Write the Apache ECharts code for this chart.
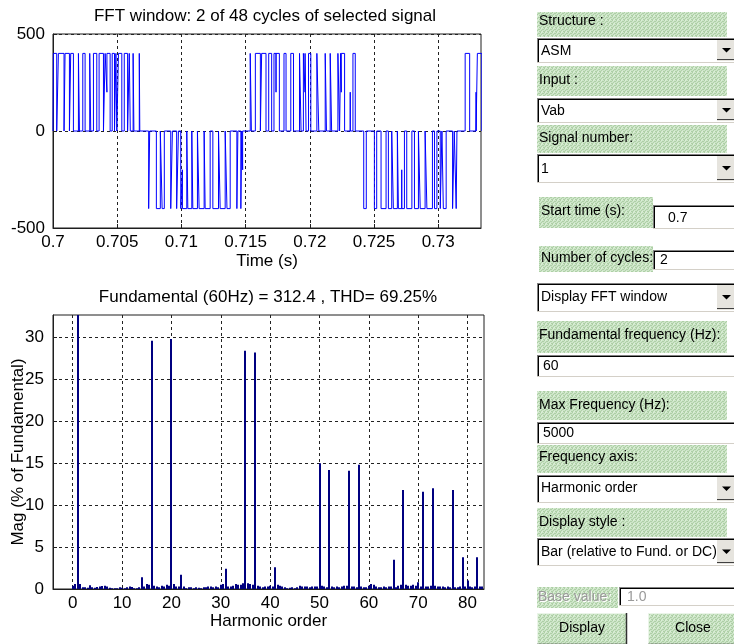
<!DOCTYPE html>
<html>
<head>
<meta charset="utf-8">
<script src="https://cdn.jsdelivr.net/npm/echarts@6.0.0/dist/echarts.min.js"></script>
<style>
  html, body { margin: 0; padding: 0; background: #fff; }
  #chart { width: 734px; height: 644px; }
</style>
</head>
<body>
<div id="chart"></div>
<script>
// ---------------------------------------------------------------------------
// Time-domain window: 2 cycles of the 60 Hz line voltage Vab from t = 0.7 s
// ---------------------------------------------------------------------------
const windowStart = 0.7;                 // s
const windowEnd = 0.7 + 2 / 60;          // s
const timeTicks = [0.7, 0.705, 0.71, 0.715, 0.72, 0.725, 0.73];
const voltTicks = [-500, 0, 500];
const busVoltage = 400;                  // V, pulse amplitude

// Conduction intervals, ms after the window start: [on, off]
const posHalf1 = [[0.03, 0.29], [0.42, 0.86], [0.94, 1.28], [1.38, 1.59], [1.98, 2.06], [2.32, 2.5],
                  [2.86, 2.94], [3.15, 3.41], [3.59, 3.93], [4.06, 4.45], [4.61, 4.79], [4.9, 4.97],
                  [5.1, 5.36], [5.55, 5.81], [5.94, 6.02], [6.24, 6.3], [6.72, 6.76]];
const negHalf1 = [[7.45, 7.53], [8.05, 8.36], [8.5, 8.67], [9.17, 9.3], [9.63, 9.77], [9.95, 10.42],
                  [10.5, 10.81], [10.89, 11.25], [11.38, 11.77], [11.85, 12.24], [12.45, 12.89],
                  [13.02, 13.41], [13.55, 13.8], [14.32, 14.4], [14.63, 14.7]];
const posHalf2 = [[15.36, 15.45], [15.76, 16.15], [16.25, 16.59], [16.8, 17.03], [17.21, 17.63],
                  [17.99, 18.15], [18.52, 18.73], [19.2, 19.32], [19.5, 19.71], [19.9, 20.08],
                  [20.55, 20.7], [21.2, 21.3], [21.59, 21.7], [22.19, 22.32], [22.4, 22.71], [23.36, 23.54]];
const negHalf2 = [[24.2, 24.4], [25.03, 25.21], [25.55, 25.94], [26.12, 26.38], [26.51, 26.82],
                  [26.9, 27.37], [27.55, 27.95], [28.15, 28.46], [28.6, 28.98], [29.12, 29.55],
                  [29.71, 29.9], [30.16, 30.29], [30.4, 30.62], [31.12, 31.25], [31.4, 31.46]];
const posHalf3 = [[32.1, 32.45], [33.05, 33.4]];
// Samples caught mid-transition: [ms, V]
const partialSamples = [[4.2, 200], [10.08, -200], [14.77, -200], [17.37, 200], [19.63, 200],
                        [22.45, 200], [23.15, 200], [27.16, -200], [32.95, 200]];

// ---------------------------------------------------------------------------
// Spectrum: magnitude in % of fundamental, bins every 0.5 harmonic (0 .. 83)
// ---------------------------------------------------------------------------
const binStep = 0.5;
const harmonicMin = -4;
const harmonicMax = 5000 / 60;
const harmonicTicks = [0, 10, 20, 30, 40, 50, 60, 70, 80];
const magTicks = [0, 5, 10, 15, 20, 25, 30];
const magMax = 32.67;
const magPct = [
  0.4, 0.6,  100, 0.6,  0.2, 0.2,  0.15, 0.45,  0.2, 0.15,      // h 0-4
  0.25, 0.3,  0.35, 0.4,  0.3, 0.15,  0.1, 0.1,  0.1, 0.2,      // h 5-9
  0.15, 0.1,  0.2, 0.3,  0.25, 0.1,  0.1, 0.2,  1.4, 0.3,       // h 10-14
  0.6, 0.5,  29.6, 0.4,  0.3, 0.2,  0.4, 0.3,  0.5, 0.4,        // h 15-19
  29.8, 0.6,  0.3, 0.3,  1.7, 0.3,  0.1, 0.2,  0.2, 0.1,        // h 20-24
  0.2, 0.15,  0.1, 0.2,  0.2, 0.3,  0.3, 0.2,  0.3, 0.2,        // h 25-29
  0.5, 0.6,  2.4, 0.3,  0.3, 0.4,  0.6, 0.5,  0.5, 0.7,         // h 30-34
  28.4, 0.7,  0.6, 0.5,  28.2, 0.4,  0.3, 0.2,  0.3, 0.3,       // h 35-39
  0.4, 0.3,  2.6, 0.5,  0.4, 0.3,  0.2, 0.1,  0.15, 0.2,        // h 40-44
  0.1, 0.2,  0.4, 0.3,  0.3, 0.3,  0.2, 0.3,  0.3, 0.3,         // h 45-49
  15.0, 0.4,  0.3, 0.2,  14.2, 0.3,  0.2, 0.3,  0.2, 0.3,       // h 50-54
  0.4, 0.4,  14.1, 0.3,  0.3, 0.2,  14.8, 0.3,  0.2, 0.2,       // h 55-59
  0.4, 0.6,  0.5, 0.3,  0.2, 0.2,  0.3, 0.2,  0.3, 0.3,         // h 60-64
  3.5, 0.2,  0.4, 0.5,  11.8, 0.5,  0.4, 0.4,  0.5, 0.4,        // h 65-69
  0.8, 0.3,  11.6, 0.3,  0.3, 0.4,  12.0, 0.4,  0.3, 0.3,       // h 70-74
  0.3, 0.2,  0.3, 0.2,  11.8, 0.2,  0.2, 0.3,  3.8, 0.3,        // h 75-79
  1.0, 0.3,  0.2, 0.3,  3.8, 0.3,  0.3                          // h 80-83
];

// ---------------------------------------------------------------------------
// Build the stepped Vab trace from the conduction intervals
// ---------------------------------------------------------------------------
function buildTrace() {
  const pulses = [];
  posHalf1.concat(posHalf2, posHalf3).forEach(p => pulses.push([p[0], p[1], busVoltage]));
  negHalf1.concat(negHalf2).forEach(p => pulses.push([p[0], p[1], -busVoltage]));
  const levelAt = ms => {
    for (const [a, b, lv] of pulses) if (ms > a && ms < b) return lv;
    return 0;
  };
  const events = [];
  pulses.forEach(([a, b]) => { events.push({ ms: a }); events.push({ ms: b }); });
  partialSamples.forEach(([ms, v]) => events.push({ ms, v }));
  events.sort((p, q) => p.ms - q.ms);
  let cur = 0;
  const pts = [[windowStart, 0]];
  events.forEach(ev => {
    const t = windowStart + ev.ms / 1000;
    if (ev.v === undefined) {
      const next = levelAt(ev.ms + 1e-6);
      pts.push([t, cur], [t, next]);
      cur = next;
    } else {
      pts.push([t, cur], [t, ev.v], [t, cur]);
    }
  });
  return pts;
}
const trace = buildTrace();
const spectrum = magPct.map((v, i) => [i * binStep, v]);

// ---------------------------------------------------------------------------
// Styling helpers
// ---------------------------------------------------------------------------
const FONT = '"Liberation Sans", Arial, Helvetica, sans-serif';
const AXIS_COLOR = '#1e1e1e';
const axisText = { color: '#000', fontSize: 17, fontFamily: FONT };
const gridDash = { color: '#222', width: 1, type: [3, 3] };

function makeDither() {
  const c = document.createElement('canvas');
  c.width = 4; c.height = 4;
  const g = c.getContext('2d');
  g.fillStyle = '#cde5c8';
  g.fillRect(0, 0, 4, 4);
  g.fillStyle = '#aecfa6';
  [[0, 0], [2, 1], [1, 2], [3, 3], [3, 1], [0, 3]].forEach(([x, y]) => g.fillRect(x, y, 1, 1));
  g.fillStyle = '#dcefd8';
  [[1, 0], [2, 3]].forEach(([x, y]) => g.fillRect(x, y, 1, 1));
  return c;
}
const greenFill = { image: makeDither(), repeat: 'repeat' };

// ---------------------------------------------------------------------------
// Control panel on the right (drawn with graphic elements)
// ---------------------------------------------------------------------------
const els = [];
const PF = '14px ' + FONT;

function txt(x, y, text, color, align) {
  els.push({ type: 'text', silent: true, style: {
    x, y, text, font: PF, fill: color || '#000', align: align || 'left', verticalAlign: 'middle' } });
}
function hline(x1, x2, y, color, w) {
  els.push({ type: 'line', silent: true, shape: { x1, y1: y, x2, y2: y }, style: { stroke: color, lineWidth: w || 1 } });
}
function vline(x, y1, y2, color, w) {
  els.push({ type: 'line', silent: true, shape: { x1: x, y1, x2: x, y2 }, style: { stroke: color, lineWidth: w || 1 } });
}
function label(x, y, w, h, text, ty, disabled) {
  els.push({ type: 'rect', silent: true, shape: { x, y, width: w, height: h }, style: { fill: greenFill } });
  if (disabled) {
    txt(x + 2, ty + 1, text, '#ffffff');
    txt(x + 1, ty, text, '#9a9a9a');
  } else {
    txt(x + 2, ty, text, '#000');
  }
}
function sunken(x, y, w, h) {
  els.push({ type: 'rect', silent: true, shape: { x, y, width: w, height: h }, style: { fill: '#fff' } });
  hline(x, x + w, y + 0.5, '#808080');
  hline(x + 1, x + w, y + 1.5, '#000');
  vline(x + 0.5, y, y + h, '#808080');
  vline(x + 1.5, y + 1, y + h - 1, '#000');
  hline(x, x + w, y + h - 0.5, '#d4d0c8');
}
function popup(y, h, text, ty) {
  sunken(537, y, 200, h);
  txt(541, ty, text);
  // drop-down button
  const bx = 716, by = y + 2, bw = 18, bh = h - 4;
  els.push({ type: 'rect', silent: true, shape: { x: bx, y: by, width: bw, height: bh }, style: { fill: '#e6e4de' } });
  hline(bx, bx + bw, by + bh - 1.5, '#404040', 1);
  vline(bx + 0.5, by, by + bh, '#ffffff');
  const cy = y + h / 2;
  els.push({ type: 'polygon', silent: true, shape: { points: [[722, cy - 2.5], [731, cy - 2.5], [726.5, cy + 2]] },
             style: { fill: '#000' } });
}
function edit(x, y, h, text, tx, ty, color) {
  sunken(x, y, 740 - x, h);
  txt(tx, ty, text, color);
}
function button(x, y, w, h, text, cx, cy) {
  els.push({ type: 'rect', silent: true, shape: { x, y, width: w, height: h }, style: { fill: greenFill } });
  hline(x, x + w, y + 0.5, '#eaf5e8');
  vline(x + 0.5, y, y + h, '#eaf5e8');
  vline(x + w - 0.5, y, y + h, '#303030', 1.5);
  hline(x, x + w, y + h - 0.5, '#303030', 1.5);
  txt(cx, cy, text, '#000', 'center');
}

label(537, 12, 190, 25, 'Structure :', 21);
popup(38, 25, 'ASM', 51);
label(537, 66, 190, 30, 'Input :', 80);
popup(98, 25, 'Vab', 111);
label(537, 125, 190, 28, 'Signal number:', 138);
popup(154, 29, '1', 169);
label(539, 197, 114, 31, 'Start time (s):', 211);
edit(653, 205, 24, '0.7', 668, 218);
label(539, 246, 114, 26, 'Number of cycles:', 258);
edit(653, 250, 20, '2', 660, 260);
popup(283, 29, 'Display FFT window', 297);
label(537, 321, 190, 32, 'Fundamental frequency (Hz):', 335);
edit(537, 355, 22, '60', 543, 366);
label(537, 391, 190, 29, 'Max Frequency (Hz):', 405);
edit(537, 422, 22, '5000', 543, 433);
label(537, 445, 190, 28, 'Frequency axis:', 457);
popup(475, 28, 'Harmonic order', 488);
label(537, 508, 190, 29, 'Display style :', 522);
popup(538, 28, 'Bar (relative to Fund. or DC)', 552);
label(537, 587, 81, 21, 'Base value:', 597, true);
edit(619, 587, 19, '1.0', 627, 597, '#9a9a9a');
button(537, 613, 90, 32, 'Display', 582, 628);
button(648, 613, 92, 32, 'Close', 693, 628);

// Plot titles and the spectrum's vertical axis title
els.push({ type: 'text', silent: true, style: { x: 265, y: 16, text: 'FFT window: 2 of 48 cycles of selected signal',
  font: '17px ' + FONT, fill: '#000', align: 'center', verticalAlign: 'middle' } });
els.push({ type: 'text', silent: true, style: { x: 268, y: 297, text: 'Fundamental (60Hz) = 312.4 , THD= 69.25%',
  font: '17px ' + FONT, fill: '#000', align: 'center', verticalAlign: 'middle' } });
els.push({ type: 'text', silent: true, x: 18, y: 452, rotation: Math.PI / 2,
  style: { x: 0, y: 0, text: 'Mag (% of Fundamental)', font: '17px ' + FONT, fill: '#000',
           align: 'center', verticalAlign: 'middle' } });

// ---------------------------------------------------------------------------
// Chart
// ---------------------------------------------------------------------------
function axisCommon(ticks, formatter, margin) {
  return {
    axisLine: { show: true, onZero: false, lineStyle: { color: AXIS_COLOR, width: 1 } },
    axisTick: { show: true, inside: true, length: 4, customValues: ticks, lineStyle: { color: AXIS_COLOR } },
    axisLabel: { customValues: ticks, formatter, margin, ...axisText },
    splitLine: { show: true, lineStyle: gridDash }
  };
}

const chart = echarts.init(document.getElementById('chart'), null, { renderer: 'canvas' });
chart.setOption({
  animation: false,
  backgroundColor: '#fff',
  grid: [
    { left: 53, top: 34, width: 428, height: 194, containLabel: false, outerBoundsMode: 'none',
      show: true, borderColor: AXIS_COLOR, borderWidth: 1, backgroundColor: '#fff' },
    { left: 53, top: 315, width: 431, height: 274, containLabel: false, outerBoundsMode: 'none',
      show: true, borderColor: AXIS_COLOR, borderWidth: 1, backgroundColor: '#fff' }
  ],
  xAxis: [
    Object.assign({ gridIndex: 0, type: 'value', min: windowStart, max: windowEnd,
      name: 'Time (s)', nameLocation: 'middle', nameGap: 25, nameTextStyle: axisText },
      axisCommon(timeTicks, v => String(Number(v.toFixed(3))), 6)),
    Object.assign({ gridIndex: 1, type: 'value', min: harmonicMin, max: harmonicMax,
      name: 'Harmonic order', nameLocation: 'middle', nameGap: 23, nameTextStyle: axisText },
      axisCommon(harmonicTicks, v => String(v), 6))
  ],
  yAxis: [
    Object.assign({ gridIndex: 0, type: 'value', min: -500, max: 500 },
      axisCommon(voltTicks, v => String(v), 8)),
    Object.assign({ gridIndex: 1, type: 'value', min: 0, max: magMax },
      axisCommon(magTicks, v => String(v), 9))
  ],
  series: [
    {
      type: 'line', xAxisIndex: 0, yAxisIndex: 0, data: trace,
      showSymbol: false, symbol: 'none', clip: true, silent: true,
      lineStyle: { color: '#0000ff', width: 1 }
    },
    {
      type: 'custom', xAxisIndex: 1, yAxisIndex: 1, data: spectrum, silent: true,
      encode: { x: 0, y: 1 },
      renderItem(params, api) {
        const h = api.value(0), v = api.value(1);
        const a = api.coord([h - 0.2, 0]);
        const b = api.coord([h + 0.2, v]);
        const x = Math.round(a[0]);
        const w = Math.max(1, Math.round(b[0] - a[0]));
        const cs = params.coordSys;
        const shape = echarts.graphic.clipRectByRect(
          { x, y: b[1], width: w, height: a[1] - b[1] },
          { x: cs.x, y: cs.y, width: cs.width, height: cs.height });
        if (!shape) return null;
        return { type: 'rect', shape, style: { fill: '#000080' } };
      }
    }
  ],
  graphic: { elements: els }
});
</script>
</body>
</html>
